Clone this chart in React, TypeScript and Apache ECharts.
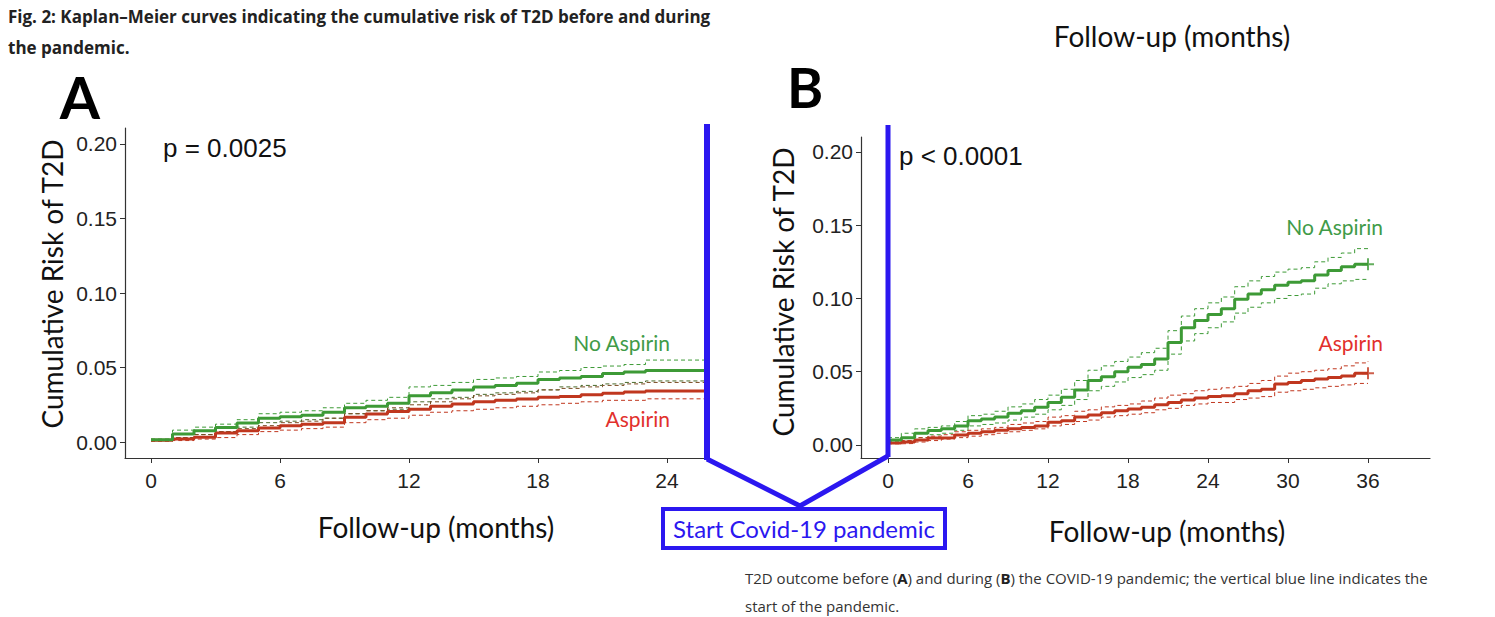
import React, { useEffect, useRef } from "react";
import * as echarts from "echarts";

// ---------- Panel A (before pandemic) ----------
const TIME_A = [0, 1, 2, 3, 4, 5, 6, 7, 8, 9, 10, 11, 12, 13, 14, 15, 16, 17, 18, 19, 20, 21, 22, 23, 25.86];
const NOASP_A = [0.0015, 0.0054, 0.0076, 0.0098, 0.0127, 0.016, 0.017, 0.018, 0.02, 0.023, 0.024, 0.026, 0.031, 0.033, 0.035, 0.037, 0.038, 0.0395, 0.042, 0.043, 0.044, 0.046, 0.047, 0.048, 0.048];
const NOASP_A_UP = [0.002, 0.008, 0.01, 0.012, 0.015, 0.019, 0.02, 0.021, 0.023, 0.026, 0.028, 0.03, 0.037, 0.038, 0.04, 0.042, 0.043, 0.044, 0.047, 0.048, 0.05, 0.051, 0.052, 0.055, 0.055];
const NOASP_A_LO = [0.001, 0.003, 0.005, 0.007, 0.01, 0.013, 0.014, 0.015, 0.016, 0.019, 0.021, 0.022, 0.027, 0.029, 0.03, 0.032, 0.033, 0.034, 0.035, 0.037, 0.038, 0.039, 0.04, 0.041, 0.041];
const ASP_A = [0.0012, 0.002, 0.0033, 0.006, 0.0076, 0.0094, 0.011, 0.012, 0.013, 0.0167, 0.0188, 0.0205, 0.022, 0.024, 0.0255, 0.027, 0.028, 0.0288, 0.03, 0.0306, 0.0317, 0.0328, 0.0335, 0.0342, 0.0342];
const ASP_A_UP = [0.0015, 0.003, 0.005, 0.007, 0.009, 0.011, 0.013, 0.014, 0.016, 0.019, 0.021, 0.023, 0.025, 0.027, 0.029, 0.031, 0.032, 0.033, 0.035, 0.036, 0.037, 0.038, 0.039, 0.04, 0.04];
const ASP_A_LO = [0.0005, 0.001, 0.002, 0.003, 0.005, 0.007, 0.008, 0.009, 0.01, 0.013, 0.015, 0.016, 0.018, 0.02, 0.021, 0.022, 0.023, 0.024, 0.025, 0.026, 0.027, 0.028, 0.028, 0.029, 0.029];

// ---------- Panel B (during pandemic) ----------
const TIME_B = [0, 1, 2, 3, 4, 5, 6, 7, 8, 9, 10, 11, 12, 13, 14, 15, 16, 17, 18, 19, 20, 21, 22, 23, 24, 25, 26, 27, 28, 29, 30, 31, 32, 33, 34, 35, 36];
const NOASP_B = [0.0034, 0.005, 0.008, 0.0098, 0.011, 0.013, 0.0166, 0.0177, 0.019, 0.0216, 0.0234, 0.0257, 0.029, 0.0325, 0.0375, 0.044, 0.0466, 0.05, 0.053, 0.055, 0.0586, 0.07, 0.08, 0.085, 0.089, 0.093, 0.0995, 0.103, 0.106, 0.109, 0.111, 0.112, 0.116, 0.119, 0.1216, 0.1234, 0.1234];
const NOASP_B_UP = [0.005, 0.008, 0.011, 0.012, 0.013, 0.016, 0.02, 0.021, 0.023, 0.026, 0.028, 0.031, 0.034, 0.038, 0.044, 0.051, 0.054, 0.057, 0.06, 0.063, 0.066, 0.078, 0.088, 0.093, 0.097, 0.101, 0.108, 0.112, 0.115, 0.118, 0.12, 0.121, 0.125, 0.128, 0.131, 0.134, 0.134];
const NOASP_B_LO = [0.002, 0.003, 0.005, 0.007, 0.008, 0.01, 0.013, 0.014, 0.015, 0.017, 0.019, 0.021, 0.024, 0.027, 0.031, 0.037, 0.04, 0.043, 0.046, 0.048, 0.051, 0.062, 0.071, 0.076, 0.08, 0.084, 0.09, 0.094, 0.097, 0.1, 0.102, 0.103, 0.107, 0.11, 0.112, 0.113, 0.113];
const ASP_B = [0.0014, 0.002, 0.0034, 0.0048, 0.005, 0.0068, 0.008, 0.009, 0.01, 0.011, 0.012, 0.013, 0.0155, 0.0166, 0.019, 0.0205, 0.022, 0.0234, 0.0245, 0.0257, 0.0275, 0.029, 0.0307, 0.032, 0.033, 0.0336, 0.035, 0.037, 0.038, 0.0416, 0.0427, 0.044, 0.045, 0.046, 0.047, 0.049, 0.049];
const ASP_B_UP = [0.002, 0.003, 0.005, 0.006, 0.007, 0.009, 0.01, 0.011, 0.012, 0.014, 0.015, 0.016, 0.019, 0.02, 0.023, 0.024, 0.026, 0.027, 0.028, 0.03, 0.032, 0.034, 0.035, 0.037, 0.038, 0.039, 0.04, 0.042, 0.044, 0.047, 0.049, 0.05, 0.051, 0.052, 0.054, 0.056, 0.057];
const ASP_B_LO = [0.0008, 0.001, 0.002, 0.003, 0.004, 0.005, 0.006, 0.007, 0.008, 0.009, 0.01, 0.011, 0.013, 0.014, 0.016, 0.017, 0.019, 0.02, 0.021, 0.022, 0.024, 0.025, 0.027, 0.028, 0.029, 0.029, 0.031, 0.032, 0.033, 0.036, 0.037, 0.038, 0.039, 0.04, 0.041, 0.042, 0.042];

// ---------- Axis ticks ----------
const Y_TICKS = [0, 0.05, 0.1, 0.15, 0.2];
const X_TICKS_A = [0, 6, 12, 18, 24];
const X_TICKS_B = [0, 6, 12, 18, 24, 30, 36];
const PANDEMIC_A = 25.86;
const PANDEMIC_B = 0;

// ---------- Texts ----------
const FIG_TITLE_1 = "Fig. 2: Kaplan\u2013Meier curves indicating the cumulative risk of T2D before and during";
const FIG_TITLE_2 = "the pandemic.";
const X_TITLE = "Follow-up (months)";
const Y_TITLE = "Cumulative Risk of T2D";
const P_A = "p = 0.0025";
const P_B = "p < 0.0001";
const BOX_TEXT = "Start Covid-19 pandemic";

const GREEN = "#3d9a36";
const RED = "#c0371f";
const GREEN_TXT = "#3f9b48";
const RED_TXT = "#e2302c";
const BLUE = "#2b17f0";
const SANS = "Lato, 'Open Sans', sans-serif";
const ARIAL = "'Liberation Sans', Arial, sans-serif";
const OPEN = "'Open Sans', sans-serif";

const zip = (t: number[], v: number[]) => t.map((x, i) => [x, v[i]]);

function stepSeries(name: string, t: number[], v: number[], color: string, dashed: boolean, idx: number) {
  return {
    name,
    type: "line",
    step: "end",
    xAxisIndex: idx,
    yAxisIndex: idx,
    showSymbol: false,
    silent: true,
    data: zip(t, v),
    lineStyle: dashed ? { color, width: 1, type: [4, 3] } : { color, width: 3 },
    z: dashed ? 2 : 3,
  };
}

function xAxis(idx: number, min: number, max: number, ticks: number[]) {
  return {
    type: "value",
    gridIndex: idx,
    min,
    max,
    splitLine: { show: false },
    axisLine: { show: true, onZero: false, lineStyle: { color: "#333", width: 1.2 } },
    axisTick: { show: true, length: 5, customValues: ticks, lineStyle: { color: "#333" } },
    axisLabel: { customValues: ticks, fontSize: 21, color: "#222", fontFamily: ARIAL, margin: 12 },
  };
}

function yAxis(idx: number, min: number, max: number) {
  return {
    type: "value",
    gridIndex: idx,
    min,
    max,
    splitLine: { show: false },
    axisLine: { show: true, onZero: false, lineStyle: { color: "#333", width: 1.2 } },
    axisTick: { show: true, length: 5, customValues: Y_TICKS, lineStyle: { color: "#333" } },
    axisLabel: {
      customValues: Y_TICKS,
      fontSize: 21,
      color: "#222",
      fontFamily: ARIAL,
      margin: 8,
      formatter: (v: number) => v.toFixed(2),
    },
  };
}

export default function App() {
  const ref = useRef<HTMLDivElement>(null);
  useEffect(() => {
    document.body.style.margin = "0";
    if (!ref.current) return;
    const chart = echarts.init(ref.current, undefined, { renderer: "svg" });
    chart.setOption({
      animation: false,
      backgroundColor: "#ffffff",
      grid: [
        { left: 125, top: 128, width: 582, height: 330 },
        { left: 861, top: 137, width: 569, height: 321 },
      ],
      xAxis: [xAxis(0, -1.21, 25.86, X_TICKS_A), xAxis(1, -2.025, 40.65, X_TICKS_B)],
      yAxis: [yAxis(0, -0.0107, 0.2107), yAxis(1, -0.0089, 0.2102)],
      series: [
        stepSeries("NoAspA_up", TIME_A, NOASP_A_UP, GREEN, true, 0),
        stepSeries("NoAspA_lo", TIME_A, NOASP_A_LO, "#4a6a2a", true, 0),
        stepSeries("AspA_up", TIME_A, ASP_A_UP, "#7a4a22", true, 0),
        stepSeries("AspA_lo", TIME_A, ASP_A_LO, RED, true, 0),
        stepSeries("AspA", TIME_A, ASP_A, RED, false, 0),
        stepSeries("NoAspA", TIME_A, NOASP_A, GREEN, false, 0),
        stepSeries("NoAspB_up", TIME_B, NOASP_B_UP, GREEN, true, 1),
        stepSeries("NoAspB_lo", TIME_B, NOASP_B_LO, GREEN, true, 1),
        stepSeries("AspB_up", TIME_B, ASP_B_UP, RED, true, 1),
        stepSeries("AspB_lo", TIME_B, ASP_B_LO, RED, true, 1),
        stepSeries("AspB", TIME_B, ASP_B, RED, false, 1),
        stepSeries("NoAspB", TIME_B, NOASP_B, GREEN, false, 1),
        {
          type: "scatter",
          xAxisIndex: 1,
          yAxisIndex: 1,
          silent: true,
          symbol: "path://M5,0L5,10M0,5L10,5",
          symbolSize: 12,
          data: [
            { value: [TIME_B[TIME_B.length - 1], NOASP_B[NOASP_B.length - 1]], itemStyle: { color: "none", borderColor: GREEN, borderWidth: 2 } },
            { value: [TIME_B[TIME_B.length - 1], ASP_B[ASP_B.length - 1]], itemStyle: { color: "none", borderColor: RED, borderWidth: 2 } },
          ],
          z: 4,
        },
      ],
    });

    const pa = chart.convertToPixel({ gridIndex: 0 }, [PANDEMIC_A, 0]) as number[];
    const pb = chart.convertToPixel({ gridIndex: 1 }, [PANDEMIC_B, 0]) as number[];
    const xa = pa[0];
    const xb = pb[0];
    const midX = 800;

    chart.setOption({
      graphic: [
        { type: "text", left: 8, top: 8, style: { text: FIG_TITLE_1, fontSize: 17, fontWeight: "bold", fontFamily: OPEN, fill: "#222" } },
        { type: "text", left: 8, top: 39, style: { text: FIG_TITLE_2, fontSize: 17, fontWeight: "bold", fontFamily: OPEN, fill: "#222" } },
        { type: "text", x: 80, y: 96, style: { text: "A", fontSize: 58, lineHeight: 44, fontWeight: "bold", fontFamily: SANS, fill: "#000", align: "center", verticalAlign: "middle" } },
        { type: "text", x: 805, y: 87, style: { text: "B", fontSize: 55, lineHeight: 42, fontWeight: "bold", fontFamily: SANS, fill: "#000", align: "center", verticalAlign: "middle" } },
        { type: "text", x: 1172, y: 36, style: { text: X_TITLE, fontSize: 28, fontFamily: SANS, fill: "#111", align: "center", verticalAlign: "middle" } },
        { type: "text", x: 436, y: 527, style: { text: X_TITLE, fontSize: 28, fontFamily: SANS, fill: "#111", align: "center", verticalAlign: "middle" } },
        { type: "text", x: 1167, y: 531, style: { text: X_TITLE, fontSize: 28, fontFamily: SANS, fill: "#111", align: "center", verticalAlign: "middle" } },
        { type: "text", x: 52, y: 284, rotation: Math.PI / 2, style: { text: Y_TITLE, fontSize: 28, fontFamily: SANS, fill: "#111", align: "center", verticalAlign: "middle" } },
        { type: "text", x: 783, y: 292, rotation: Math.PI / 2, style: { text: Y_TITLE, fontSize: 28, fontFamily: SANS, fill: "#111", align: "center", verticalAlign: "middle" } },
        { type: "text", x: 163, y: 148, style: { text: P_A, fontSize: 26, fontFamily: ARIAL, fill: "#111", verticalAlign: "middle" } },
        { type: "text", x: 899, y: 156, style: { text: P_B, fontSize: 26, fontFamily: ARIAL, fill: "#111", verticalAlign: "middle" } },
        { type: "text", x: 670, y: 342, style: { text: "No Aspirin", fontSize: 21, fontFamily: SANS, fill: GREEN_TXT, align: "right", verticalAlign: "middle" } },
        { type: "text", x: 670, y: 418, style: { text: "Aspirin", fontSize: 21, fontFamily: SANS, fill: RED_TXT, align: "right", verticalAlign: "middle" } },
        { type: "text", x: 1383, y: 226, style: { text: "No Aspirin", fontSize: 21, fontFamily: SANS, fill: GREEN_TXT, align: "right", verticalAlign: "middle" } },
        { type: "text", x: 1383, y: 342, style: { text: "Aspirin", fontSize: 21, fontFamily: SANS, fill: RED_TXT, align: "right", verticalAlign: "middle" } },
        { type: "line", z: 10, shape: { x1: xa, y1: 124, x2: xa, y2: 460 }, style: { stroke: BLUE, lineWidth: 6 } },
        { type: "line", z: 10, shape: { x1: xb, y1: 125, x2: xb, y2: 457 }, style: { stroke: BLUE, lineWidth: 5 } },
        { type: "polyline", z: 10, shape: { points: [[xa, 459], [midX, 506], [xb, 456]] }, style: { stroke: BLUE, lineWidth: 5, fill: "none" } },
        { type: "rect", z: 10, shape: { x: 663, y: 509, width: 282, height: 39 }, style: { stroke: BLUE, lineWidth: 4, fill: "#fff" } },
        { type: "text", z: 11, x: 804, y: 528, style: { text: BOX_TEXT, fontSize: 24, fontFamily: SANS, fill: BLUE, align: "center", verticalAlign: "middle" } },
        {
          type: "text",
          x: 745,
          y: 578,
          style: {
            text: "T2D outcome before ({b|A}) and during ({b|B}) the COVID-19 pandemic; the vertical blue line indicates the",
            fontSize: 15,
            fontFamily: OPEN,
            fill: "#333",
            verticalAlign: "middle",
            rich: { b: { fontWeight: "bold", fontSize: 15, fontFamily: OPEN, fill: "#222" } },
          },
        },
        { type: "text", x: 745, y: 606, style: { text: "start of the pandemic.", fontSize: 15, fontFamily: OPEN, fill: "#333", verticalAlign: "middle" } },
      ],
    });

    return () => chart.dispose();
  }, []);
  return <div ref={ref} style={{ width: 1495, height: 617 }} />;
}
